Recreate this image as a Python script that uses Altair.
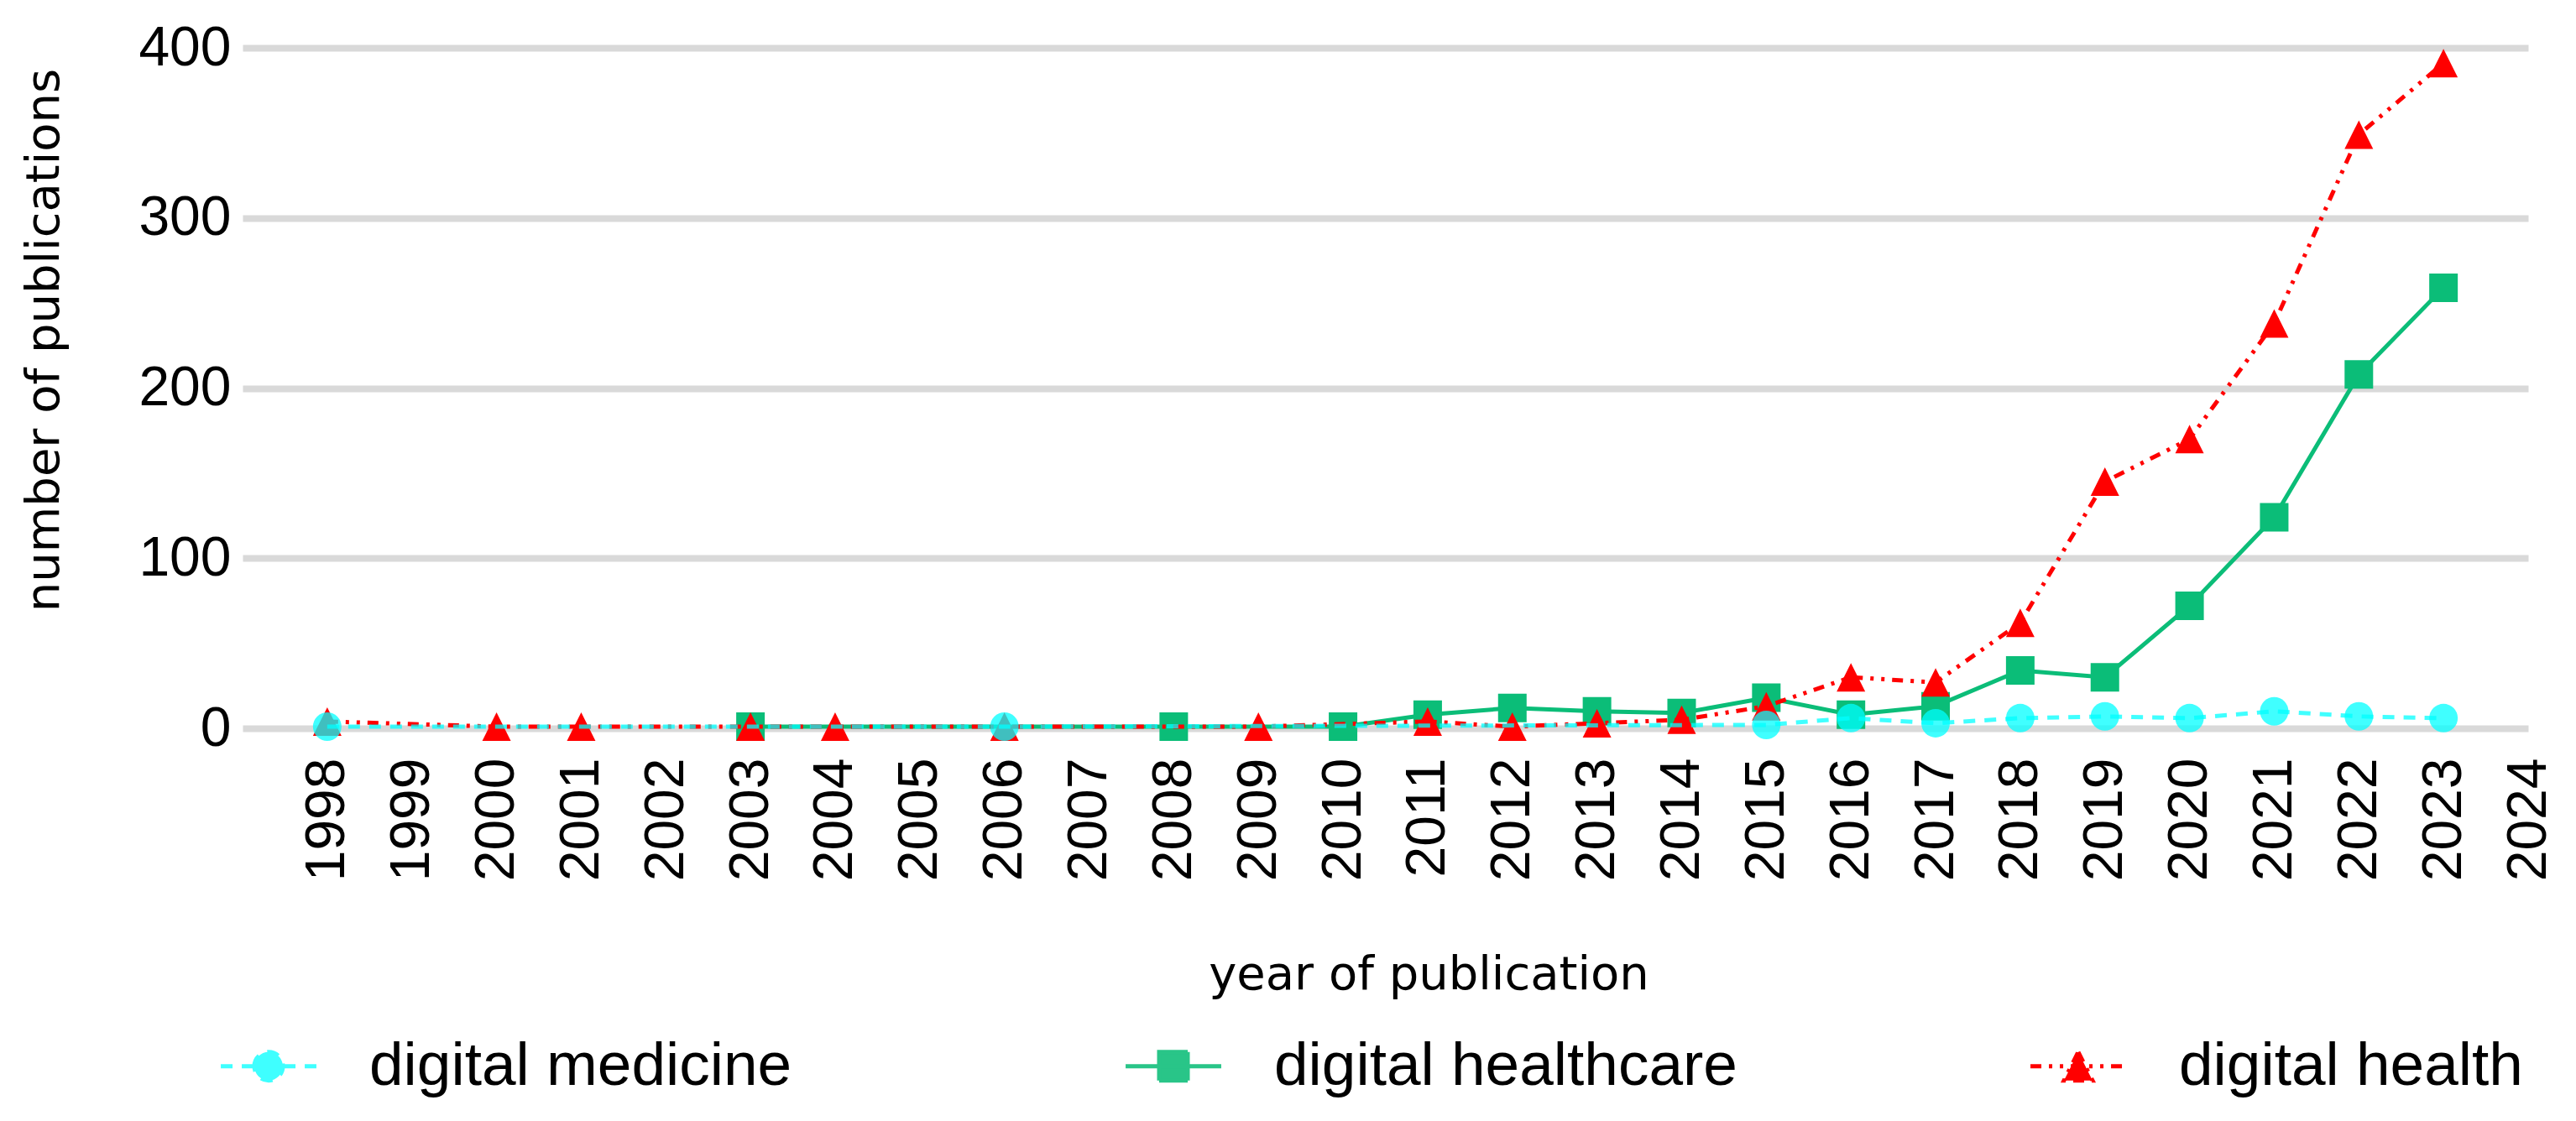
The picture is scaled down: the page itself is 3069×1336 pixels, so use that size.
import altair as alt
import pandas as pd

# ---------------- data ----------------
years = list(range(1998, 2024))
tick_years = list(range(1998, 2025))
y_ticks = [0, 100, 200, 300, 400]

series_names = ["digital medicine", "digital healthcare", "digital health"]

N = None
medicine = [1, N, N, N, N, N, N, N, 1, N, N, N, N, N, N, N, N,
            2, 6, 3, 6, 7, 6, 10, 7, 6]
healthcare = [N, N, N, N, N, 1, N, N, N, N, 1, N, 1,
              8, 12, 10, 9, 18, 8, 13, 34, 30, 72, 124, 208, 259]
health = [4, N, 1, 1, N, 1, 1, N, 1, N, N, 1, N,
          4, 1, 3, 5, 13, 30, 27, 62, 145, 170, 238, 349, 391]

colors = ["#00FFFF", "#0BBD78", "#FF0000"]
opacities = [0.75, 1.0, 1.0]
dashes = [[14, 11], [1, 0], [13, 9, 4, 9, 4, 9]]
marker_paths = [
    "circle",
    "square",
    "M0,-1L1,1L-1,1Z",
]
legend_paths = [
    "M-3.35,0H3.35M-1,0A1,1 0 1,1 1,0A1,1 0 1,1 -1,0Z",
    "M-3.35,0H3.35M-1,-1H1V1H-1Z",
    "M-3.35,0H3.35M0,-1L1,1L-1,1Z",
]

rows = []
for name, vals in zip(series_names, [medicine, healthcare, health]):
    for yr, v in zip(years, vals):
        if v is not None:
            rows.append({"year": yr, "value": v, "series": name})
df = pd.DataFrame(rows)

# ---------------- encodings ----------------
x_enc = alt.X(
    "year:Q",
    scale=alt.Scale(domain=[1997, 2024], nice=False, zero=False),
    axis=alt.Axis(
        values=tick_years, format="d", grid=False, domain=False, ticks=False,
        tickSize=0, labelAngle=270, labelAlign="right", labelBaseline="middle",
        labelPadding=35, labelFont="Liberation Sans", labelFontSize=66,
        labelColor="black", labelOverlap=False, labelFlush=False,
        title="year of publication", titleFont="DejaVu Sans", titleFontSize=56,
        titleFontWeight="normal", titleColor="black", titleX=1413, titleY=310,
        titleBaseline="alphabetic", titleAlign="center",
    ),
)
y_enc = alt.Y(
    "value:Q",
    scale=alt.Scale(domain=[0, 400], nice=False),
    axis=alt.Axis(
        values=y_ticks, grid=True, gridColor="#d9d9d9", gridWidth=8,
        domain=False, ticks=False, tickSize=0, labelPadding=14,
        labelFont="Liberation Sans", labelFontSize=66, labelColor="black",
        labelOverlap=False,
        title="number of publications", titleFont="DejaVu Sans", titleFontSize=56,
        titleFontWeight="normal", titleColor="black", titleAngle=270,
        titleX=-220, titleY=348, titleBaseline="alphabetic", titleAlign="center",
    ),
)

base = alt.Chart(df)
layers = []
for name in ["digital healthcare", "digital health", "digital medicine"]:
    i = series_names.index(name)
    sub = base.transform_filter(alt.datum.series == name)
    line_kwargs = dict(color=colors[i], strokeWidth=5, opacity=opacities[i])
    if i != 1:
        line_kwargs["strokeDash"] = dashes[i]
    layers.append(sub.mark_line(**line_kwargs).encode(x=x_enc, y=y_enc))
    layers.append(
        sub.mark_point(filled=True, shape=marker_paths[i], size=1156,
                       color=colors[i], opacity=opacities[i], strokeWidth=0)
        .encode(x=x_enc, y=y_enc)
    )

leg = alt.Legend(
    orient="none", legendX=-5.5, legendY=1177, direction="horizontal",
    columns=3, gridAlign="all", columnPadding=338, title=None, padding=0,
    labelFont="Liberation Sans", labelFontSize=73, labelColor="black",
    labelLimit=2000, labelOffset=83.5, symbolSize=1156, symbolStrokeWidth=5,
)
legend_layer = base.transform_filter("false").mark_point(filled=True).encode(
    x=x_enc,
    y=y_enc,
    color=alt.Color("series:N", scale=alt.Scale(domain=series_names, range=colors), legend=leg),
    stroke=alt.Stroke("series:N", scale=alt.Scale(domain=series_names, range=colors), legend=leg),
    shape=alt.Shape("series:N", scale=alt.Scale(domain=series_names, range=legend_paths), legend=leg),
    strokeDash=alt.StrokeDash("series:N", scale=alt.Scale(domain=series_names, range=dashes), legend=leg),
    opacity=alt.Opacity("series:N", scale=alt.Scale(domain=series_names, range=opacities), legend=leg),
)
layers.append(legend_layer)

chart = alt.layer(*layers).properties(
    width=2723,
    height=811,
    autosize=alt.AutoSizeParams(type="none"),
    padding={"left": 281, "top": 49, "right": 49, "bottom": 460},
    background="white",
).configure_view(stroke=None)

chart.save("out.html", embed_options={"renderer": "svg", "actions": False})
